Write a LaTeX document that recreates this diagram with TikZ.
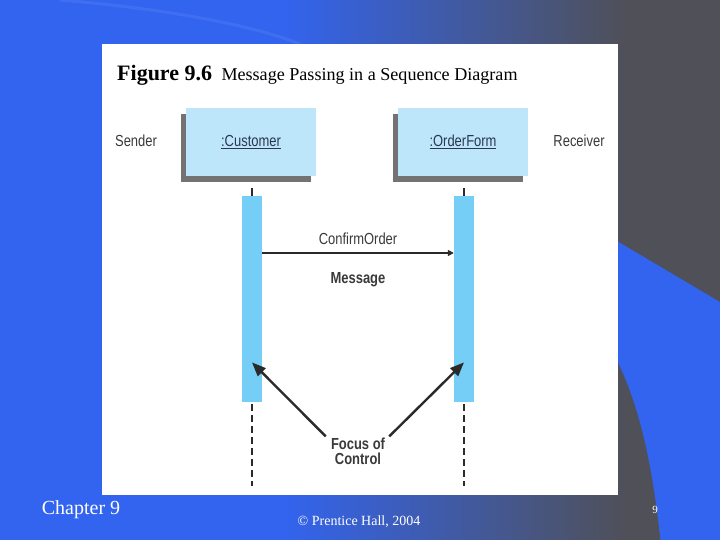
\documentclass[tikz,border=0pt]{standalone}
\usepackage{fontspec}
\setmainfont{Liberation Serif}
\newfontfamily\narrowsf[FakeStretch=0.81]{Liberation Sans}
\usetikzlibrary{arrows.meta,positioning,calc,shadows}
\definecolor{SlideBlue}{HTML}{3264F0}
\definecolor{SlideGray}{HTML}{4F5058}
\definecolor{ObjFill}{HTML}{BEE6FA}
\definecolor{BarFill}{HTML}{74CEF5}
\definecolor{Ink}{HTML}{2A2A2A}
\definecolor{Label}{HTML}{3A3A3A}
\definecolor{ObjInk}{HTML}{2B3650}
\tikzset{
  objbox/.style={fill=ObjFill,minimum width=130pt,minimum height=68pt,inner sep=0pt,font=\narrowsf\fontsize{16}{18}\selectfont,text=ObjInk,
    drop shadow={shadow xshift=-5pt,shadow yshift=-6pt,fill=black!55,opacity=1}},
  activebar/.style={fill=BarFill,minimum width=20pt,minimum height=206pt,inner sep=0pt},
  lifeline/.style={draw=Ink,line width=2pt,dash pattern=on 7pt off 4pt},
  msg/.style={-{Triangle[length=6pt,width=6pt]},draw=Ink,line width=2.2pt},
  pointer/.style={-{Triangle[length=14pt,width=11pt]},draw=Ink,line width=2.4pt},
  plain/.style={font=\narrowsf\fontsize{16}{18}\selectfont,text=Label},
  boldlabel/.style={font=\narrowsf\bfseries\fontsize{16}{18}\selectfont,text=Label,align=center},
  foot/.style={text=white}
}

\begin{document}
\begin{tikzpicture}[x=1pt,y=-1pt]
  \useasboundingbox (0,0) rectangle (720,540);
  % slide background
  \fill[SlideBlue] (-5,-5) rectangle (725,545);
  \shade[left color=SlideBlue,right color=SlideGray] (280,-5) rectangle (625,545);
  \fill[SlideGray] (625,-5) rectangle (725,545);
  \draw[white,opacity=0.07,line width=3pt] (60,0) .. controls (180,10) and (260,28) .. (300,44);
  \fill[SlideBlue] (600,231) -- (725,305) -- (725,545) -- (661,545) .. controls (650,440) and (632,380) .. (600,330) -- cycle;

  % figure panel
  \fill[white] (102,44) rectangle (618,495);
  \node[anchor=base west,inner sep=0pt] (title) at (117,81)
    {\fontsize{22}{24}\selectfont\bfseries Figure 9.6};
  \node[inner sep=0pt,right=9pt of title.base east,anchor=base west] (caption)
    {\fontsize{18.1}{20}\selectfont Message Passing in a Sequence Diagram};

  % objects
  \node[objbox] (cust) at (251,142) {\underline{:Customer}};
  \node[objbox] (ord) at (463,142) {\underline{:OrderForm}};
  \node[plain] (sender) at (136,141) {Sender};
  \node[plain] (receiver) at (579,141) {Receiver};

  % activations
  \node[activebar,anchor=north] (custbar) at (252,196) {};
  \node[activebar,anchor=north] (ordbar) at (464,196) {};
  \coordinate (custend) at (252,486);
  \coordinate (ordend) at (464,486);
  \draw[draw=Ink,line width=2pt] ([yshift=-12pt]cust.south -| custbar.north) -- (custbar.north);
  \draw[draw=Ink,line width=2pt] ([yshift=-12pt]ord.south -| ordbar.north) -- (ordbar.north);
  \draw[lifeline] ([yshift=-2pt]custbar.south) -- (custend);
  \draw[lifeline] ([yshift=-2pt]ordbar.south) -- (ordend);

  % message
  \draw[msg] ([yshift=-57pt]custbar.north east) -- ([yshift=-57pt]ordbar.north west);
  \node[plain] (confirm) at (358,239) {ConfirmOrder};
  \node[boldlabel] (message) at (358,280) {Message};

  % focus of control
  \node[boldlabel,inner sep=1pt] (focus) at (358,451) {Focus of\\[-3pt]Control};
  \draw[pointer] ([xshift=-4pt]focus.north west) -- ([yshift=40pt]custbar.south);
  \draw[pointer] ([xshift=3pt]focus.north east) -- ([yshift=40pt]ordbar.south);

  % footer
  \node[foot,font=\fontsize{20}{22}\selectfont] (chapter) at (81,510) {Chapter 9};
  \node[foot,font=\fontsize{14}{16}\selectfont] (copy) at (359,522) {\textcopyright{} Prentice Hall, 2004};
  \node[foot,font=\fontsize{11}{12}\selectfont] (page) at (655,510) {9};
\end{tikzpicture}
\end{document}
